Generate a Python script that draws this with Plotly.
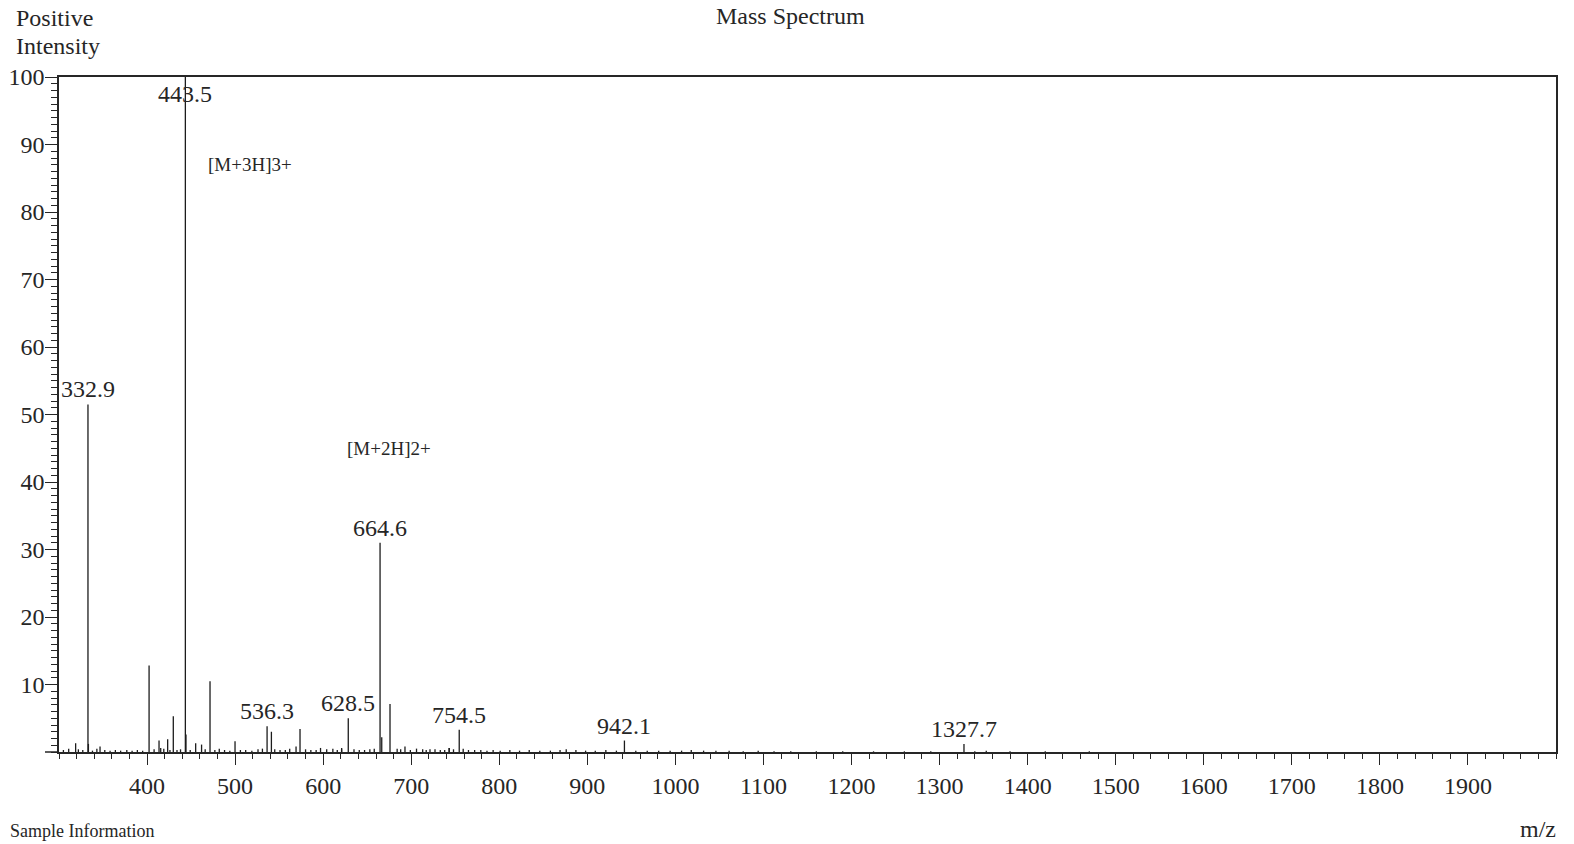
import plotly.graph_objects as go

# ---- spectrum data -------------------------------------------------------
peak_mz = [318.9, 332.9, 333.4, 346.6, 402.3, 413.6, 415.5, 423.4, 429.8, 443.5,
           444.2, 455.2, 461.9, 471.5, 499.9, 536.3, 541.2, 569.2, 573.7, 620.9,
           628.5, 664.6, 666.5, 675.9, 692.9, 721.3, 743.2, 754.5, 942.1, 1327.7]
peak_int = [1.3, 51.5, 1.2, 0.8, 12.8, 1.7, 0.6, 1.9, 5.3, 100.0,
            2.6, 1.3, 1.1, 10.5, 1.6, 3.8, 3.0, 0.8, 3.4, 0.4,
            5.0, 31.0, 2.2, 7.1, 0.8, 0.4, 0.6, 3.3, 1.7, 1.2]

# low-level baseline signal
noise_mz = [305, 311, 322, 327, 338, 343, 352, 358, 364, 370,
            377, 383, 389, 395, 408, 419, 426, 434, 438, 449,
            466, 477, 482, 488, 494, 506, 512, 519, 526, 531,
            545, 551, 557, 562, 580, 586, 592, 597, 604, 611,
            616, 621, 635, 641, 647, 653, 658, 684, 688, 699,
            706, 713, 717, 727, 733, 738, 743, 748, 759, 765,
            772, 779, 786, 793, 801, 812, 823, 834, 846, 858,
            869, 876, 887, 898, 909, 921, 933, 955, 968, 981,
            994, 1007, 1018, 1032, 1046, 1061, 1077, 1094, 1112, 1131,
            1160, 1190, 1225, 1260, 1290, 1340, 1353, 1380, 1420, 1470]
noise_int = [0.3, 0.5, 0.4, 0.3, 0.2, 0.5, 0.3, 0.2, 0.3, 0.2,
             0.3, 0.2, 0.3, 0.2, 0.4, 0.5, 0.3, 0.3, 0.4, 0.3,
             0.4, 0.3, 0.5, 0.3, 0.2, 0.3, 0.3, 0.2, 0.4, 0.5,
             0.4, 0.3, 0.3, 0.5, 0.4, 0.3, 0.3, 0.6, 0.4, 0.5,
             0.3, 0.6, 0.4, 0.3, 0.3, 0.4, 0.5, 0.5, 0.4, 0.3,
             0.5, 0.4, 0.3, 0.4, 0.3, 0.3, 0.6, 0.4, 0.5, 0.3,
             0.3, 0.3, 0.2, 0.3, 0.2, 0.3, 0.2, 0.3, 0.2, 0.2,
             0.3, 0.4, 0.3, 0.2, 0.2, 0.3, 0.2, 0.2, 0.2, 0.2,
             0.2, 0.2, 0.3, 0.2, 0.2, 0.2, 0.1, 0.2, 0.1, 0.1,
             0.1, 0.1, 0.1, 0.1, 0.1, 0.1, 0.2, 0.1, 0.1, 0.1]

labelled_mz = [332.9, 443.5, 536.3, 628.5, 664.6, 754.5, 942.1, 1327.7]

charge_notes = ["[M+3H]3+", "[M+2H]2+"]
charge_note_mz = [517, 675]
charge_note_int = [87, 45]

x_tick_vals = list(range(400, 2000, 100))
y_tick_vals = list(range(10, 110, 10))

# ---- page geometry -------------------------------------------------------
W, H = 1574, 844
ML, MR, MT, MB = 59, 18, 77, 92
PW, PH = W - ML - MR, H - MT - MB
INK = "#262626"
FONT = "Liberation Serif, Times New Roman, serif"


def px(x):
    return (x - ML) / PW


def py(y):
    return (H - MB - y) / PH


# stick spectrum: one vertical segment per m/z value
all_mz = noise_mz + peak_mz
all_int = noise_int + peak_int
xs, ys = [], []
for m, i in sorted(zip(all_mz, all_int)):
    xs += [m, m, None]
    ys += [0, i, None]

fig = go.Figure()
fig.add_trace(go.Scatter(x=xs, y=ys, mode="lines",
                         line=dict(color="#1c1c1c", width=1.3),
                         hoverinfo="skip", showlegend=False))

intensity_of = dict(zip(peak_mz, peak_int))
annotations = []
for m in labelled_mz:
    top = intensity_of[m]
    if top >= 99:
        annotations.append(dict(x=m, y=top, xref="x", yref="y", text=f"{m:.1f}",
                                showarrow=False, yanchor="top", yshift=-2,
                                font=dict(size=24, color=INK, family=FONT)))
    else:
        annotations.append(dict(x=m, y=top, xref="x", yref="y", text=f"{m:.1f}",
                                showarrow=False, yanchor="bottom", yshift=0,
                                font=dict(size=24, color=INK, family=FONT)))

for t, m, i in zip(charge_notes, charge_note_mz, charge_note_int):
    annotations.append(dict(x=m, y=i, xref="x", yref="y", text=t, showarrow=False,
                            font=dict(size=19, color=INK, family=FONT)))

annotations += [
    dict(x=px(14), y=py(18), xref="paper", yref="paper", text="Positive",
         xanchor="left", yanchor="middle", showarrow=False,
         font=dict(size=24, color=INK, family=FONT)),
    dict(x=px(14), y=py(46), xref="paper", yref="paper", text="Intensity",
         xanchor="left", yanchor="middle", showarrow=False,
         font=dict(size=24, color=INK, family=FONT)),
    dict(x=px(790), y=py(1), xref="paper", yref="paper", text="Mass Spectrum",
         xanchor="center", yanchor="top", showarrow=False,
         font=dict(size=24, color=INK, family=FONT)),
    dict(x=px(1538), y=py(829), xref="paper", yref="paper", text="m/z",
         xanchor="center", yanchor="middle", showarrow=False,
         font=dict(size=24, color=INK, family=FONT)),
    dict(x=px(8), y=py(843), xref="paper", yref="paper", text="Sample Information",
         xanchor="left", yanchor="bottom", showarrow=False,
         font=dict(size=18, color=INK, family=FONT)),
]

fig.update_layout(
    width=W, height=H,
    margin=dict(l=ML, r=MR, t=MT, b=MB, autoexpand=False),
    paper_bgcolor="white", plot_bgcolor="white",
    font=dict(family=FONT, size=24, color=INK),
    showlegend=False,
    annotations=annotations,
    shapes=[dict(type="line", xref="paper", yref="paper",
                 x0=px(45), x1=0, y0=0, y1=0,
                 line=dict(color=INK, width=1.5))],
    xaxis=dict(range=[300, 2000], showgrid=False, zeroline=False, automargin=False,
               showline=True, mirror=True, linecolor=INK, linewidth=1.5,
               ticks="outside", ticklen=11, tickwidth=1.3, tickcolor=INK,
               tickvals=x_tick_vals, ticktext=[str(v) for v in x_tick_vals],
               tickfont=dict(size=24, color=INK, family=FONT),
               minor=dict(tick0=300, dtick=20, ticks="outside", ticklen=5,
                          tickwidth=1.2, tickcolor=INK, showgrid=False)),
    yaxis=dict(range=[0, 100], showgrid=False, zeroline=False, automargin=False,
               showline=True, mirror=True, linecolor=INK, linewidth=1.5,
               ticks="outside", ticklen=12, tickwidth=1.3, tickcolor=INK,
               ticklabelstandoff=-4,
               tickvals=y_tick_vals, ticktext=[str(v) for v in y_tick_vals],
               tickfont=dict(size=24, color=INK, family=FONT),
               minor=dict(tick0=0, dtick=1, ticks="outside", ticklen=6,
                          tickwidth=1, tickcolor=INK, showgrid=False)),
)

fig.write_html("out.html")
